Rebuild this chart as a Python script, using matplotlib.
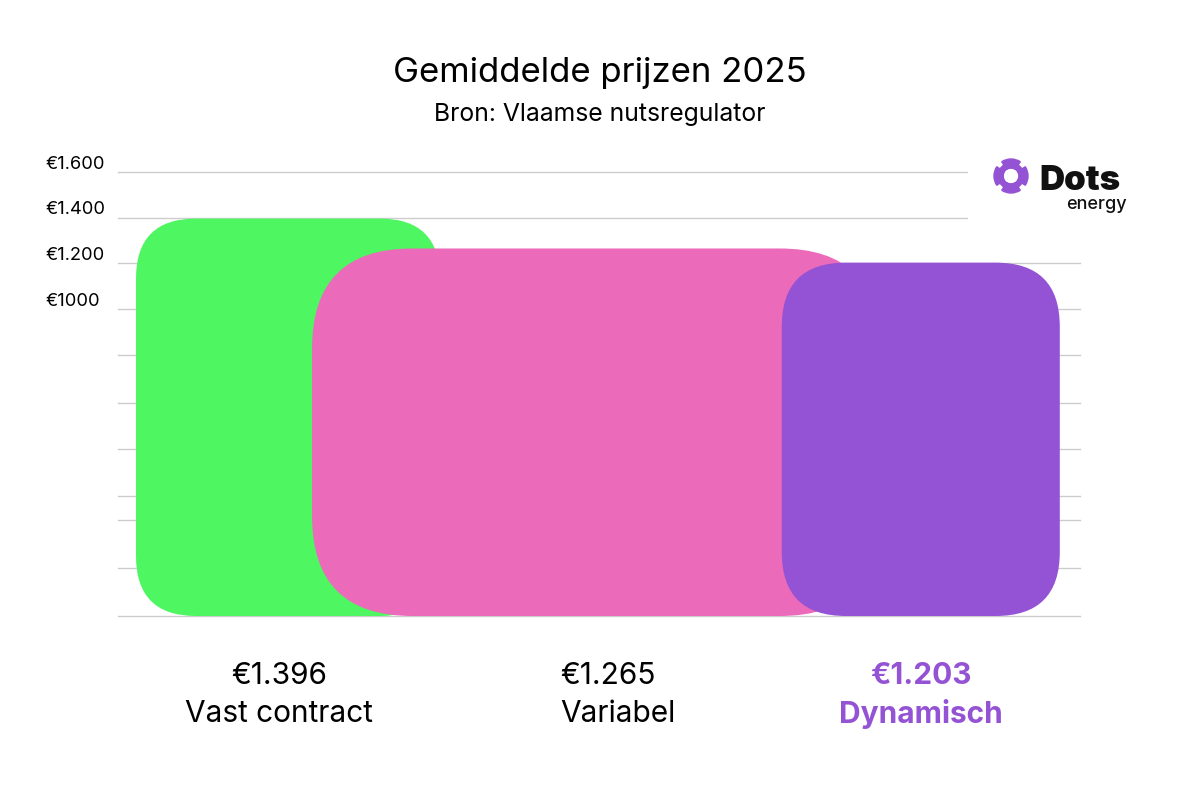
import matplotlib
matplotlib.use("Agg")
import matplotlib.pyplot as plt
from matplotlib.patches import FancyBboxPatch, Wedge
from matplotlib import transforms

plt.rcParams['font.family'] = ['Inter', 'DejaVu Sans']

# data
categories = ['Vast contract', 'Variabel', 'Dynamisch']
prices = [1396, 1265, 1203]
price_labels = ['€1.396', '€1.265', '€1.203']
tick_values = [1600, 1400, 1200, 1000]
tick_labels = ['€1.600', '€1.400', '€1.200', '€1000']
grid_values = [1600, 1400, 1200, 1000, 800, 590, 385, 180, 75, -135, -344]

# styling / layout (axes fraction for x)
colors = ['#4EF662', '#EB6ABA', '#9452D5']
bar_left = [0.0187, 0.2017, 0.690]
bar_width = [0.316, 0.5904, 0.289]
radius_px = [60, 100, 64]
label_x = [0.1674, 0.4595, 0.8347]
label_ha = ['center', 'left', 'center']
label_color = ['#000000', '#000000', '#9452D5']
label_weight = ['normal', 'normal', 'bold']

W, H = 1200, 800
fig = plt.figure(figsize=(12, 8), dpi=100)
ax = fig.add_axes([118 / W, (H - 616) / H, 962 / W, (616 - 140) / H])
ymin, ymax = -344.5, 1740.1
ax.set_xlim(0, 1)
ax.set_ylim(ymin, ymax)
for s in ax.spines.values():
    s.set_visible(False)
ax.set_xticks([])
ax.set_yticks([])

for g in grid_values:
    ax.axhline(g, color='#cccccc', lw=1, zorder=0, clip_on=False)

# pixels per data unit
sx = 962 / 1.0
sy = (616 - 140) / (ymax - ymin)
aspect = sx / sy

for i, v in enumerate(prices):
    r = radius_px[i] / sx
    box = FancyBboxPatch((bar_left[i], ymin), bar_width[i], v - ymin,
                         boxstyle=f"round,pad=0,rounding_size={r}",
                         mutation_aspect=aspect, facecolor=colors[i],
                         edgecolor='none', zorder=2 + i, clip_on=False)
    ax.add_patch(box)

# y labels sitting above their gridlines
trans = transforms.blended_transform_factory(fig.transFigure, ax.transData)
trans = transforms.offset_copy(trans, fig=fig, y=-0.5, units='points')
for v, t in zip(tick_values, tick_labels):
    ax.text(45 / W, v, t, transform=trans, ha='left', va='bottom',
            fontsize=13.2, color='#000000')

# bottom labels
for i in range(3):
    ax.text(label_x[i], -0.126, price_labels[i], transform=ax.transAxes,
            ha=label_ha[i], va='center', fontsize=21.5, color=label_color[i],
            fontweight=label_weight[i])
    ax.text(label_x[i], -0.206, categories[i], transform=ax.transAxes,
            ha=label_ha[i], va='center', fontsize=21.5, color=label_color[i],
            fontweight=label_weight[i])

fig.text(0.5, 1 - 73 / H, 'Gemiddelde prijzen 2025', ha='center', va='center',
         fontsize=25, color='#000000')
fig.text(0.5, 1 - 115 / H, 'Bron: Vlaamse nutsregulator', ha='center', va='center',
         fontsize=17.8, color='#000000')

# logo
lg = fig.add_axes([968 / W, (H - 235) / H, 180 / W, 90 / H])
lg.set_xlim(968, 1148)
lg.set_ylim(565, 655)
lg.set_facecolor('white')
for s in lg.spines.values():
    s.set_visible(False)
lg.set_xticks([])
lg.set_yticks([])
c = (1011, 624)
lg.add_patch(Wedge(c, 13, 0, 360, width=5, color='#9452D5'))
for a in [0, 90, 180, 270]:
    lg.add_patch(Wedge(c, 17, a - 33, a + 33, width=9, color='#9452D5'))
lg.text(1039, 610, 'Dots', ha='left', va='baseline', fontsize=25,
        fontweight='black', color='#111111')
lg.text(1127, 591, 'energy', ha='right', va='baseline', fontsize=13,
        fontweight='medium', color='#111111')

fig.savefig('out.png', dpi=100, facecolor='white')
